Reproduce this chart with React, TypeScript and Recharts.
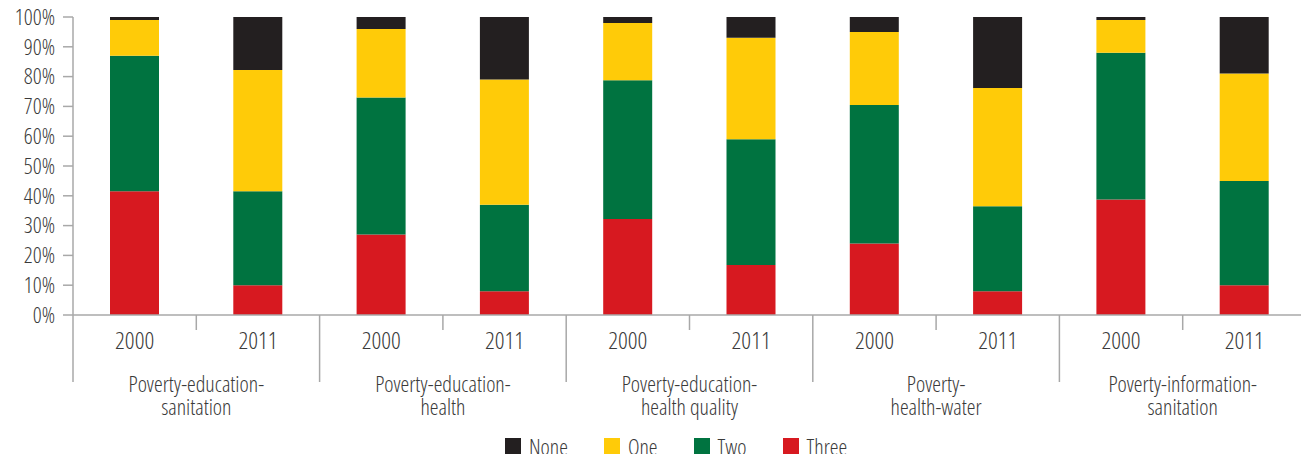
import { Bar, BarChart, Legend, XAxis, YAxis } from "recharts";

const groupLines = [
  ["Poverty-education-", "sanitation"],
  ["Poverty-education-", "health"],
  ["Poverty-education-", "health quality"],
  ["Poverty-", "health-water"],
  ["Poverty-information-", "sanitation"],
];
const years = ["2000", "2011"];

// shares in percent, one entry per bar (group x year)
const three = [41.5, 10, 27, 8, 32.2, 16.8, 24, 8, 38.8, 10];
const two = [45.5, 31.5, 46, 29, 46.6, 42.2, 46.5, 28.5, 49.2, 35];
const one = [12, 40.7, 23, 42, 19.2, 34, 24.5, 39.7, 11, 36];
const none = [1, 17.8, 4, 21, 2, 7, 5, 23.8, 1, 19];

const yTicks = [0, 10, 20, 30, 40, 50, 60, 70, 80, 90, 100];

const SERIES = [
  { key: "None", color: "#231f20" },
  { key: "One", color: "#ffcb08" },
  { key: "Two", color: "#007340" },
  { key: "Three", color: "#d71920" },
];

const FONT = '"Open Sans", Roboto, sans-serif';
const TEXT = "#3a3a3a";
const AXIS = "#a8a8a8";

const data = three.map((_, i) => ({
  name: `${i}`,
  year: years[i % 2],
  group: Math.floor(i / 2),
  Three: three[i],
  Two: two[i],
  One: one[i],
  None: none[i],
}));

const WIDTH = 1300;
const HEIGHT = 446;
const MARGIN = { top: 9, right: 2, left: 0, bottom: 0 };
const Y_WIDTH = 65;
const BAND = (WIDTH - MARGIN.left - MARGIN.right - Y_WIDTH) / data.length;

function CategoryTick(props: any) {
  const { x, y, payload, index } = props;
  const half = payload?.offset || BAND / 2;
  const left = x - half;
  const isGroupStart = index % 2 === 0;
  const lines = groupLines[Math.floor(index / 2)];
  return (
    <g>
      <line
        x1={left}
        x2={left}
        y1={y}
        y2={y + (isGroupStart ? 67 : 15)}
        stroke={AXIS}
        strokeWidth={1.5}
      />
      {index === data.length - 1 && (
        <line x1={x + half} x2={x + half} y1={y} y2={y + 67} stroke={AXIS} strokeWidth={1.5} />
      )}
      <text x={x} y={y + 34} textAnchor="middle" fill={TEXT} fontSize={24}>
        {years[index % 2]}
      </text>
      {isGroupStart && (
        <>
          <text x={x + half} y={y + 77} textAnchor="middle" fill={TEXT} fontSize={22}>
            {lines[0]}
          </text>
          <text x={x + half} y={y + 100} textAnchor="middle" fill={TEXT} fontSize={22}>
            {lines[1]}
          </text>
        </>
      )}
    </g>
  );
}

function LegendContent() {
  return (
    <div style={{ display: "flex", alignItems: "center", color: TEXT }}>
      {SERIES.map((s) => (
        <div key={s.key} style={{ display: "flex", alignItems: "center", marginRight: 36 }}>
          <span style={{ width: 16, height: 16, background: s.color, marginRight: 8 }} />
          <span style={{ fontSize: 22, lineHeight: "16px" }}>{s.key}</span>
        </div>
      ))}
    </div>
  );
}

export default function App() {
  return (
    <div
      style={{
        width: 1301,
        height: 454,
        padding: "8px 0 0 8px",
        boxSizing: "border-box",
        overflow: "hidden",
        fontFamily: FONT,
        fontStretch: "75%",
        fontWeight: 300,
      }}
    >
      <style>{"html, body { margin: 0; overflow: hidden; }"}</style>
      <BarChart width={WIDTH} height={HEIGHT} data={data} margin={MARGIN} barSize={49}>
        <YAxis
          type="number"
          domain={[0, 100]}
          ticks={yTicks}
          width={Y_WIDTH}
          tickFormatter={(v) => `${v}%`}
          tick={{ fill: TEXT, fontSize: 22 }}
          axisLine={{ stroke: AXIS, strokeWidth: 1.5 }}
          tickLine={{ stroke: AXIS, strokeWidth: 1.5 }}
          tickSize={10}
          tickMargin={8}
          interval={0}
        />
        <XAxis
          dataKey="name"
          height={139}
          interval={0}
          tickLine={false}
          tickSize={0}
          tickMargin={0}
          axisLine={{ stroke: AXIS, strokeWidth: 1.5 }}
          tick={<CategoryTick />}
        />
        <Legend
          layout="horizontal"
          verticalAlign="middle"
          content={<LegendContent />}
          wrapperStyle={{ top: 430, left: 497, width: "auto", height: "auto" }}
        />
        <Bar dataKey="Three" stackId="a" fill="#d71920" isAnimationActive={false} />
        <Bar dataKey="Two" stackId="a" fill="#007340" isAnimationActive={false} />
        <Bar dataKey="One" stackId="a" fill="#ffcb08" isAnimationActive={false} />
        <Bar dataKey="None" stackId="a" fill="#231f20" isAnimationActive={false} />
      </BarChart>
    </div>
  );
}
